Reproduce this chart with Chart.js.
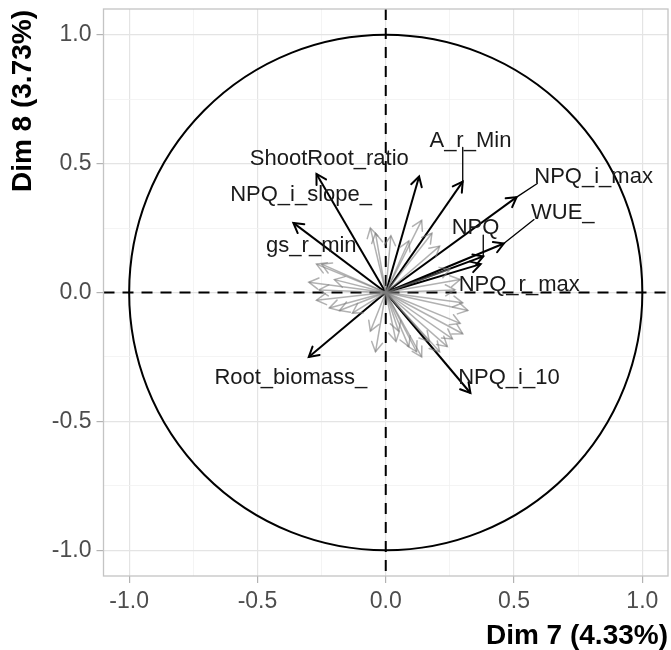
<!DOCTYPE html>
<html>
<head>
<meta charset="utf-8">
<script src="https://cdn.jsdelivr.net/npm/chart.js@4/dist/chart.umd.min.js"></script>
<style>
  body { margin: 0; background: #fff; }
  #wrap { width: 671px; height: 650px; }
</style>
</head>
<body>
<div id="wrap"><canvas id="pca" width="671" height="650"></canvas></div>
<script>
// highlighted variables (black arrows) - coords on Dim 7 / Dim 8
const varNames = ["ShootRoot_ratio", "NPQ_i_slope_", "gs_r_min", "A_r_Min", "NPQ_i_max",
                  "WUE_", "NPQ", "NPQ_r_max", "NPQ_i_10", "Root_biomass_"];
const varX = [-0.27, -0.36, 0.13, 0.30, 0.51, 0.46, 0.38, 0.37, 0.33, -0.30];
const varY = [0.46, 0.27, 0.45, 0.43, 0.37, 0.19, 0.14, 0.11, -0.39, -0.25];
// where the (repelled) labels ended up
const labelX = [-0.22, -0.33, -0.29, 0.33, 0.81, 0.69, 0.35, 0.52, 0.48, -0.37];
const labelY = [0.52, 0.38, 0.18, 0.59, 0.45, 0.31, 0.25, 0.03, -0.33, -0.33];
const hasLeader = [false, false, false, true, true, true, true, false, false, false];

// the other variables (grey arrows)
const otherX = [-0.30, -0.27, -0.25, -0.27, -0.22, -0.18, -0.13, -0.26, -0.20,
                -0.06, -0.04, 0.02, 0.14, 0.18, 0.09, 0.21,
                0.25, 0.29, 0.27,
                0.32, 0.30, 0.29, 0.30, 0.26, 0.24, 0.21, 0.14, 0.12, 0.17, 0.09,
                -0.04, 0.04, 0.05, -0.06];
const otherY = [0.04, 0.11, 0.11, -0.03, -0.06, -0.07, -0.08, 0.01, 0.05,
                0.25, 0.23, 0.22, 0.28, 0.23, 0.20, 0.18,
                0.09, 0.05, 0.01,
                -0.07, -0.04, -0.12, -0.16, -0.18, -0.21, -0.23, -0.25, -0.23, -0.19, -0.21,
                -0.23, -0.19, -0.15, -0.15];

const tickLabels = [-1.0, -0.5, 0.0, 0.5, 1.0];
const minorTicks = [-0.75, -0.25, 0.25, 0.75];
const xTitle = "Dim 7 (4.33%)";
const yTitle = "Dim 8 (3.73%)";

const FONT = '"Liberation Sans", Arial, sans-serif';
const GREY_ARROW = "rgba(125,125,125,0.6)";

const datasets = [];
otherX.forEach((x, i) => {
  datasets.push({ data: [{ x: 0, y: 0 }, { x: x, y: otherY[i] }],
    borderColor: GREY_ARROW, borderWidth: 1.5 });
});
varX.forEach((x, i) => {
  datasets.push({ data: [{ x: 0, y: 0 }, { x: x, y: varY[i] }],
    borderColor: "#000", borderWidth: 2 });
});

const allTicks = tickLabels.concat(minorTicks).sort((a, b) => a - b);
const isMajor = v => tickLabels.some(t => Math.abs(t - v) < 1e-9);

function axisOpts(isX) {
  return {
    type: "linear",
    min: -1.1,
    max: 1.1,
    afterBuildTicks: s => { s.ticks = allTicks.map(v => ({ value: v })); },
    afterFit: s => {
      if (isX) s.height = 74; else s.width = 103.5;
      s.paddingTop = 0; s.paddingBottom = 0; s.paddingLeft = 0; s.paddingRight = 0;
    },
    border: { display: false },
    grid: {
      color: c => isMajor(c.tick.value) ? "#e4e4e4" : "#f1f1f1",
      lineWidth: c => isMajor(c.tick.value) ? 1.2 : 0.8,
      tickColor: c => isMajor(c.tick.value) ? "#b3b3b3" : "rgba(0,0,0,0)",
      tickLength: 7,
      tickWidth: 1.2
    },
    ticks: {
      autoSkip: false,
      maxRotation: 0,
      padding: 5,
      color: "#4d4d4d",
      font: { family: FONT, size: 23 },
      callback: v => isMajor(v) ? v.toFixed(1) : ""
    }
  };
}

const decor = {
  id: "decor",
  beforeDatasetsDraw(chart) {
    const { ctx, chartArea: a, scales: { x, y } } = chart;
    const x0 = x.getPixelForValue(0), y0 = y.getPixelForValue(0);
    ctx.save();
    ctx.strokeStyle = "#000";
    ctx.lineWidth = 2;
    ctx.setLineDash([11, 8]);
    ctx.beginPath();
    ctx.moveTo(a.left, y0); ctx.lineTo(a.right, y0);
    ctx.moveTo(x0, a.top); ctx.lineTo(x0, a.bottom);
    ctx.stroke();
    ctx.setLineDash([]);
    // correlation circle of radius 1
    const rx = x.getPixelForValue(1) - x0, ry = y0 - y.getPixelForValue(1);
    ctx.beginPath();
    ctx.ellipse(x0, y0, rx, ry, 0, 0, Math.PI * 2);
    ctx.stroke();
    ctx.restore();
  },
  afterDatasetsDraw(chart) {
    const { ctx, chartArea: a, scales: { x, y } } = chart;
    ctx.save();
    // arrow heads
    chart.data.datasets.forEach(ds => {
      const p0 = ds.data[0], p1 = ds.data[1];
      const sx = x.getPixelForValue(p0.x), sy = y.getPixelForValue(p0.y);
      const ex = x.getPixelForValue(p1.x), ey = y.getPixelForValue(p1.y);
      const ang = Math.atan2(ey - sy, ex - sx);
      const L = 11, spread = Math.PI / 6;
      ctx.strokeStyle = ds.borderColor;
      ctx.lineWidth = ds.borderWidth;
      ctx.lineCap = "round";
      ctx.beginPath();
      ctx.moveTo(ex - L * Math.cos(ang - spread), ey - L * Math.sin(ang - spread));
      ctx.lineTo(ex, ey);
      ctx.lineTo(ex - L * Math.cos(ang + spread), ey - L * Math.sin(ang + spread));
      ctx.stroke();
    });
    // labels and leader segments (tip -> nearest point of label box)
    ctx.font = "22px " + FONT;
    ctx.textAlign = "center";
    ctx.textBaseline = "middle";
    varNames.forEach((name, i) => {
      const cx = x.getPixelForValue(labelX[i]), cy = y.getPixelForValue(labelY[i]);
      if (hasLeader[i]) {
        const w = ctx.measureText(name).width / 2 - 3, h = 7;
        const tx = x.getPixelForValue(varX[i]), ty = y.getPixelForValue(varY[i]);
        const nx = Math.min(Math.max(tx, cx - w), cx + w);
        const ny = Math.min(Math.max(ty, cy - h), cy + h);
        ctx.strokeStyle = "#000";
        ctx.lineWidth = 1.3;
        ctx.beginPath();
        ctx.moveTo(tx, ty); ctx.lineTo(nx, ny);
        ctx.stroke();
      }
      ctx.fillStyle = "#1a1a1a";
      ctx.fillText(name, cx, cy);
    });
    // panel border
    ctx.strokeStyle = "#c4c4c4";
    ctx.lineWidth = 1.3;
    ctx.strokeRect(a.left, a.top, a.right - a.left, a.bottom - a.top);
    ctx.restore();
  },
  afterDraw(chart) {
    const { ctx, chartArea: a } = chart;
    ctx.save();
    ctx.fillStyle = "#000";
    ctx.font = "bold 28px " + FONT;
    ctx.textAlign = "right";
    ctx.textBaseline = "middle";
    ctx.fillText(xTitle, a.right, 636);
    ctx.translate(23, a.top + 1);
    ctx.rotate(-Math.PI / 2);
    ctx.fillText(yTitle, 0, 0);
    ctx.restore();
  }
};

new Chart(document.getElementById("pca"), {
  type: "scatter",
  data: { datasets: datasets },
  options: {
    responsive: false,
    animation: false,
    showLine: true,
    layout: { padding: { top: 9, right: 3, left: 0, bottom: 0 } },
    elements: { point: { radius: 0, hoverRadius: 0 }, line: { tension: 0 } },
    plugins: { legend: { display: false }, tooltip: { enabled: false } },
    scales: { x: axisOpts(true), y: axisOpts(false) }
  },
  plugins: [decor]
});
</script>
</body>
</html>
